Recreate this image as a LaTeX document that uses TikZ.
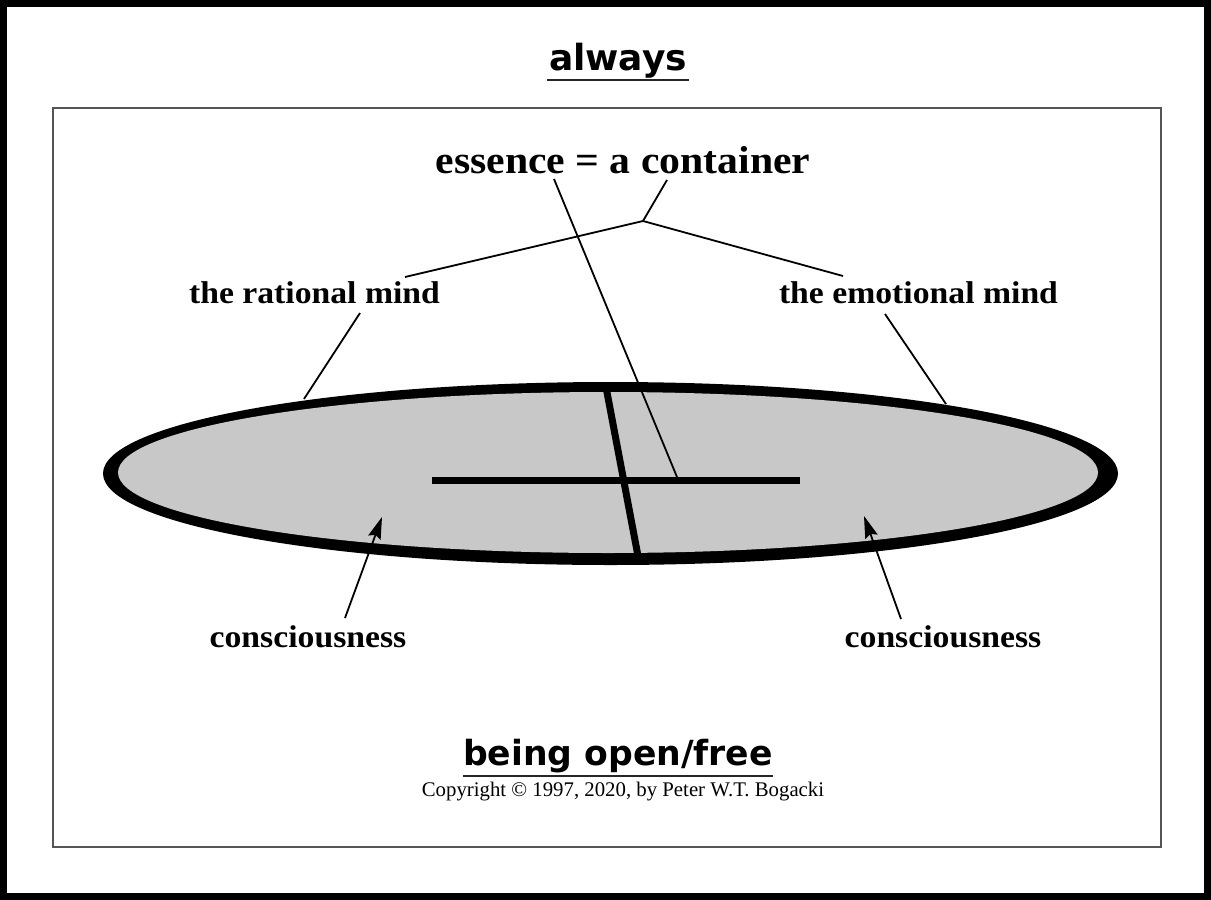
\documentclass[tikz,border=0pt]{standalone}
\usepackage{fontspec}
\setmainfont{Liberation Serif}
\newfontfamily\lblfont[FakeStretch=1.07]{Liberation Serif}
\newfontfamily\ttlfont{DejaVu Sans}
\usetikzlibrary{arrows.meta}
\definecolor{ellgray}{HTML}{C8C8C8}
\definecolor{framegray}{HTML}{555555}
\begin{document}
\begin{tikzpicture}[x=1pt,y=-1pt,
  lab/.style={font=\lblfont\bfseries\fontsize{31.5}{34}\selectfont, anchor=base, inner sep=0pt},
  biglab/.style={font=\lblfont\bfseries\fontsize{39}{42}\selectfont, anchor=base, inner sep=0pt},
  ttl/.style={font=\ttlfont\bfseries\fontsize{36}{40}\selectfont, anchor=base, inner sep=0pt},
  copy/.style={font=\fontsize{20.8}{24}\selectfont, anchor=base, inner sep=0pt},
  leader/.style={draw=black, line width=1.8pt},
  arr/.style={draw=black, line width=1.8pt, -{Stealth[length=22pt,width=13pt,inset=3pt]}},
  crossbar/.style={draw=black, line width=7pt},
  uline/.style={draw=black!85, line width=2pt}
]
\useasboundingbox (0,0) rectangle (1211,900);
\fill[white] (0,0) rectangle (1211,900);
% outer border
\draw[line width=7pt] (3.5,3.5) rectangle (1207.5,896.5);
% inner frame
\draw[framegray, line width=1.5pt] (53,108) rectangle (1161,847);

% titles
\node[ttl] (always) at (618,70) {always};
\coordinate (ulA1) at (547,80);
\coordinate (ulA2) at (689,80);
\draw[uline] (ulA1) -- (ulA2);

\node[ttl, font=\ttlfont\bfseries\fontsize{34.6}{38}\selectfont] (open) at (618,765) {being open/free};
\coordinate (ulB1) at (463,775.5);
\coordinate (ulB2) at (773,775.5);
\draw[uline] (ulB1) -- (ulB2);
\node[copy] (copyr) at (623,796) {Copyright © 1997, 2020, by Peter W.T. Bogacki};

% ellipse
\fill[black] (610.5,473.5) ellipse [x radius=507.5pt, y radius=91.5pt];
\fill[ellgray] (608,472.5) ellipse [x radius=490pt, y radius=80.5pt];

% cross
\coordinate (vT) at (606,387);
\coordinate (vB) at (638,556);
\coordinate (hL) at (432,480);
\coordinate (hR) at (800,480);
\draw[crossbar] (vT) -- (vB);
\draw[crossbar] (hL) -- (hR);

% labels
\node[biglab] (essence) at (623,173) {essence = a container};
\node[lab] (rational) at (314.5,303) {the rational mind};
\node[lab] (emotional) at (918.5,303) {the emotional mind};
\node[lab] (consL) at (308,647) {consciousness};
\node[lab] (consR) at (943,647) {consciousness};

% leader lines
\coordinate (essTop) at (554,179);
\coordinate (essBot) at (677,477);
\draw[leader] (essTop) -- (essBot);
\coordinate (conTop) at (667,180);
\coordinate (junc) at (643,221);
\coordinate (jL) at (405,277);
\coordinate (jR) at (843,276);
\draw[leader] (conTop) -- (junc);
\draw[leader] (jL) -- (junc) -- (jR);
\coordinate (ratA) at (360,313);
\coordinate (ratB) at (304,399);
\draw[leader] (ratA) -- (ratB);
\coordinate (emoA) at (885,314);
\coordinate (emoB) at (946,404);
\draw[leader] (emoA) -- (emoB);

% arrows
\coordinate (aLt) at (345,618);
\coordinate (aLh) at (382,517);
\draw[arr] (aLt) -- (aLh);
\coordinate (aRt) at (901,619);
\coordinate (aRh) at (864,516);
\draw[arr] (aRt) -- (aRh);
\end{tikzpicture}
\end{document}
